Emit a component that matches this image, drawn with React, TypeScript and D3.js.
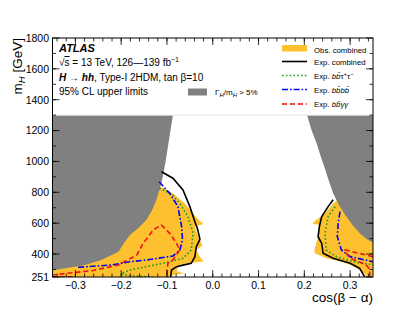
import React from "react";
import * as d3 from "d3";

type P = [number, number];

// Γ_H/m_H > 5% regions (cos(β−α), m_H)
const grayLeft: P[] = [
  [-0.087, 1300], [-0.095, 1150], [-0.103, 1000], [-0.109, 900], [-0.115, 830],
  [-0.123, 750], [-0.133, 680], [-0.145, 620], [-0.163, 567], [-0.181, 523],
  [-0.194, 470], [-0.206, 415], [-0.243, 361], [-0.279, 329], [-0.352, 292],
];
const grayRight: P[] = [
  [0.206, 1300], [0.216, 1200], [0.227, 1117], [0.236, 1030], [0.245, 955],
  [0.254, 870], [0.263, 793], [0.276, 715], [0.292, 642], [0.306, 585],
  [0.321, 534], [0.336, 497], [0.352, 469],
];
// Observed exclusion (filled)
const obsLeft: P[] = [
  [-0.14, 950], [-0.119, 842], [-0.1, 815], [-0.087, 793], [-0.061, 728], [-0.043, 664],
  [-0.032, 625], [-0.02, 595], [-0.039, 578], [-0.032, 512], [-0.022, 455],
  [-0.036, 426], [-0.03, 390], [-0.02, 352], [-0.06, 338], [-0.075, 326],
  [-0.079, 288], [-0.062, 276], [-0.085, 266], [-0.095, 251], [-0.35, 251], [-0.35, 700],
];
const obsRight: P[] = [
  [0.3, 820], [0.263, 728], [0.245, 664], [0.222, 610], [0.218, 596], [0.234, 588],
  [0.23, 512], [0.222, 430], [0.223, 405], [0.248, 372], [0.28, 352],
  [0.3, 330], [0.318, 300], [0.333, 270], [0.336, 251], [0.35, 251], [0.35, 820],
];
// Expected combined
const expLeft: P[] = [
  [-0.112, 933], [-0.087, 891], [-0.065, 815], [-0.05, 707], [-0.039, 609],
  [-0.033, 560], [-0.028, 495], [-0.032, 470], [-0.036, 447], [-0.039, 383],
  [-0.047, 340], [-0.065, 328], [-0.079, 318], [-0.09, 296], [-0.092, 251],
];
const expRight: P[] = [
  [0.263, 752], [0.252, 707], [0.238, 642], [0.233, 580], [0.23, 512],
  [0.238, 469], [0.241, 405], [0.263, 372], [0.3, 340], [0.321, 307], [0.332, 251],
];
// Expected bbττ
const tautauLeft: P[] = [
  [-0.117, 826], [-0.09, 790], [-0.072, 728], [-0.054, 642], [-0.043, 534],
  [-0.047, 426], [-0.065, 372], [-0.109, 340], [-0.181, 296], [-0.2, 272],
  [-0.185, 262], [-0.15, 254], [-0.13, 251],
];
const tautauRight: P[] = [
  [0.267, 707], [0.252, 642], [0.245, 534], [0.248, 426], [0.27, 383],
  [0.307, 350], [0.35, 329],
];
// Expected bbbb
const bbbbLeft: P[] = [
  [-0.117, 868], [-0.094, 793], [-0.076, 707], [-0.068, 577], [-0.066, 491],
  [-0.072, 426], [-0.087, 387], [-0.145, 361], [-0.181, 350], [-0.221, 329],
  [-0.294, 314],
];
const bbbbRight: P[] = [
  [0.278, 674], [0.274, 599], [0.272, 512], [0.281, 426], [0.3, 383], [0.35, 350],
];
// Expected bbγγ
const yyLeft: P[] = [
  [-0.352, 264], [-0.264, 292], [-0.206, 329], [-0.166, 393], [-0.152, 469],
  [-0.13, 556], [-0.112, 588], [-0.094, 534], [-0.079, 469], [-0.072, 426],
  [-0.087, 361], [-0.098, 340], [-0.101, 251],
];
const yyLeftBottom: P[] = [[-0.352, 253], [-0.3, 252]];
const yyRight: P[] = [
  [0.35, 383], [0.289, 426], [0.29, 410], [0.3, 372], [0.335, 330], [0.343, 300], [0.343, 251],
];

const xTicks = [-0.3, -0.2, -0.1, 0.0, 0.1, 0.2, 0.3];
const xTickLabels = ["\u22120.3", "\u22120.2", "\u22120.1", "0.0", "0.1", "0.2", "0.3"];
const yTicks = [251, 400, 600, 800, 1000, 1200, 1400, 1600, 1800];

const FONT = "'Liberation Sans', Arial, Helvetica, sans-serif";

export default function App() {
  const left = 52.5, right = 373, top = 38, bottom = 277;
  const x = d3.scaleLinear().domain([-0.35, 0.35]).range([left, right]);
  const y = d3.scaleLinear().domain([251, 1800]).range([bottom, top]);
  const line = d3.line<P>().x((d) => x(d[0])).y((d) => y(d[1]));
  const poly = (pts: P[]) => line(pts) + "Z";
  const grayLeftPath = poly([...grayLeft, [-0.352, 1300]]);
  const grayRightPath = poly([...grayRight, [0.352, 1300]]);

  const xMinor: number[] = d3.range(-0.34, 0.3501, 0.02).map((v) => Math.round(v * 100) / 100);
  const yMinor: number[] = d3.range(300, 1800, 100);

  const styles = {
    exp: { stroke: "#000", strokeWidth: 1.6, fill: "none" },
    tt: { stroke: "#1a9a1a", strokeWidth: 1.6, fill: "none", strokeDasharray: "1.6,2.2" },
    bb: { stroke: "#0000ee", strokeWidth: 1.6, fill: "none", strokeDasharray: "6,2,1.6,2" },
    yy: { stroke: "#ee1111", strokeWidth: 1.6, fill: "none", strokeDasharray: "5,3" },
  };

  const legendX1 = 282, legendX2 = 307, legendTx = 314;
  const legendRows = [50.5, 64.5, 78.5, 92.5, 107];

  return (
    <svg width={415} height={312} style={{ display: "block", position: "absolute", left: 0, top: 0 }} fontFamily={FONT}>
      <rect x={0} y={0} width={415} height={312} fill="#fff" />
      <defs>
        <clipPath id="plot">
          <rect x={left} y={y(1300)} width={right - left} height={bottom - y(1300)} />
        </clipPath>
      </defs>
      <g clipPath="url(#plot)">
        <path d={poly(obsLeft)} fill="#fdc12f" />
        <path d={poly(obsRight)} fill="#fdc12f" />
        <path d={grayLeftPath} fill="#808080" />
        <path d={grayRightPath} fill="#808080" />
        <path d={line(expLeft)!} {...styles.exp} />
        <path d={line(expRight)!} {...styles.exp} />
        <path d={line(tautauLeft)!} {...styles.tt} />
        <path d={line(tautauRight)!} {...styles.tt} />
        <path d={line(bbbbLeft)!} {...styles.bb} />
        <path d={line(bbbbRight)!} {...styles.bb} />
        <path d={line(yyLeft)!} {...styles.yy} />
        <path d={line(yyLeftBottom)!} {...styles.yy} />
        <path d={line(yyRight)!} {...styles.yy} />
      </g>
      <line x1={left} x2={right} y1={y(1300)} y2={y(1300)} stroke="#ddd" strokeWidth={0.8} />

      {/* frame */}
      <rect x={left} y={top} width={right - left} height={bottom - top} fill="none" stroke="#000" strokeWidth={1} />

      {/* x ticks */}
      {xMinor.map((v, i) => (
        <g key={"xm" + i}>
          <line x1={x(v)} x2={x(v)} y1={bottom} y2={bottom - 3.5} stroke="#000" strokeWidth={0.8} />
          <line x1={x(v)} x2={x(v)} y1={top} y2={top + 3.5} stroke="#000" strokeWidth={0.8} />
        </g>
      ))}
      {xTicks.map((v, i) => (
        <g key={"xt" + i}>
          <line x1={x(v)} x2={x(v)} y1={bottom} y2={bottom - 7} stroke="#000" strokeWidth={0.8} />
          <line x1={x(v)} x2={x(v)} y1={top} y2={top + 7} stroke="#000" strokeWidth={0.8} />
          <text x={x(v)} y={289} fontSize={10.5} textAnchor="middle" fill="#000">{xTickLabels[i]}</text>
        </g>
      ))}
      {/* y ticks */}
      {yMinor.map((v, i) => (
        <g key={"ym" + i}>
          <line x1={left} x2={left + 3.5} y1={y(v)} y2={y(v)} stroke="#000" strokeWidth={0.8} />
          <line x1={right} x2={right - 3.5} y1={y(v)} y2={y(v)} stroke="#000" strokeWidth={0.8} />
        </g>
      ))}
      {yTicks.map((v, i) => (
        <g key={"yt" + i}>
          <line x1={left} x2={left + 7} y1={y(v)} y2={y(v)} stroke="#000" strokeWidth={0.8} />
          <line x1={right} x2={right - 7} y1={y(v)} y2={y(v)} stroke="#000" strokeWidth={0.8} />
          <text x={49} y={y(v) + 3.8} fontSize={10.5} textAnchor="end" fill="#000">{v}</text>
        </g>
      ))}

      {/* axis titles */}
      <text x={right} y={302} fontSize={13.5} textAnchor="end" fill="#000">cos(β − α)</text>
      <text transform={`translate(22,${top}) rotate(-90)`} fontSize={13.5} textAnchor="end" fill="#000">
        m<tspan fontSize={9.5} fontStyle="italic" dy={3}>H</tspan>
        <tspan dy={-3}> [GeV]</tspan>
      </text>

      {/* left text block */}
      <text x={59} y={52} fontSize={11} fontWeight="bold" fontStyle="italic" fill="#000">ATLAS</text>
      <text x={59} y={66} fontSize={10} fill="#000">
        √<tspan style={{ textDecoration: "overline" }}>s</tspan> = 13 TeV, 126—139 fb
        <tspan fontSize={7} dy={-4}>−1</tspan>
      </text>
      <text x={59} y={80.5} fontSize={10} fill="#000">
        <tspan fontStyle="italic" fontWeight="bold">H</tspan>
        <tspan fontWeight="bold"> → </tspan>
        <tspan fontStyle="italic" fontWeight="bold">hh</tspan>, Type-I 2HDM, tan β=10
      </text>
      <text x={59} y={94.5} fontSize={10} fill="#000">95% CL upper limits</text>

      <rect x={188} y={88.5} width={19} height={7} fill="#808080" />
      <text x={215} y={95} fontSize={8} fill="#000">
        Γ<tspan fontSize={6} dy={2} fontStyle="italic">H</tspan>
        <tspan dy={-2}>/m</tspan>
        <tspan fontSize={6} dy={2} fontStyle="italic">H</tspan>
        <tspan dy={-2}> &gt; 5%</tspan>
      </text>

      {/* right legend */}
      <rect x={legendX1} y={legendRows[0] - 5.5} width={legendX2 - legendX1} height={6.5} fill="#fdc12f" />
      <text x={legendTx} y={legendRows[0] + 2.5} fontSize={7.8} fill="#000">Obs. combined</text>

      <line x1={legendX1} x2={legendX2} y1={legendRows[1] - 3} y2={legendRows[1] - 3} {...styles.exp} />
      <text x={legendTx} y={legendRows[1]} fontSize={7.8} fill="#000">Exp. combined</text>

      <line x1={legendX1} x2={legendX2} y1={legendRows[2] - 3} y2={legendRows[2] - 3} {...styles.tt} />
      <text x={legendTx} y={legendRows[2]} fontSize={7.8} fill="#000">
        Exp. <tspan fontStyle="italic">bb̄</tspan>τ<tspan fontSize={6} dy={-3}>+</tspan>
        <tspan dy={3}>τ</tspan><tspan fontSize={6} dy={-3}>−</tspan>
      </text>

      <line x1={legendX1} x2={legendX2} y1={legendRows[3] - 3} y2={legendRows[3] - 3} {...styles.bb} />
      <text x={legendTx} y={legendRows[3]} fontSize={7.8} fill="#000">
        Exp. <tspan fontStyle="italic">bb̄bb̄</tspan>
      </text>

      <line x1={legendX1} x2={legendX2} y1={legendRows[4] - 3} y2={legendRows[4] - 3} {...styles.yy} />
      <text x={legendTx} y={legendRows[4]} fontSize={7.8} fill="#000">
        Exp. <tspan fontStyle="italic">bb̄γγ</tspan>
      </text>
    </svg>
  );
}
